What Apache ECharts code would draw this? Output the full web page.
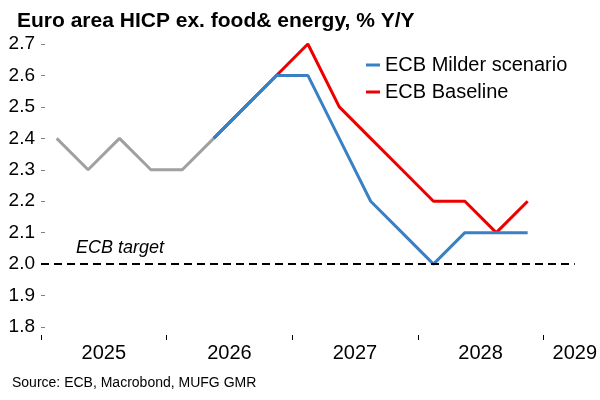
<!DOCTYPE html>
<html>
<head>
    <meta charset="UTF-8">
    <title>Euro area HICP ex. food & energy</title>
    <script src="https://cdn.jsdelivr.net/npm/echarts@6/dist/echarts.min.js"></script>
    <style>
        html, body { margin: 0; padding: 0; background: #fff; }
        #chart { width: 600px; height: 400px; }
    </style>
</head>
<body>
<div id="chart"></div>
<script>
    // quarterly points, 2025Q1 .. 2029Q1
    var quarters = ['2025Q1','2025Q2','2025Q3','2025Q4',
                    '2026Q1','2026Q2','2026Q3','2026Q4',
                    '2027Q1','2027Q2','2027Q3','2027Q4',
                    '2028Q1','2028Q2','2028Q3','2028Q4',
                    '2029Q1'];
    var actualData   = [2.4, 2.3, 2.4, 2.3, 2.3, 2.4];
    var baselineData = [null, null, null, null, null, 2.4, 2.5, 2.6, 2.7, 2.5, 2.4, 2.3, 2.2, 2.2, 2.1, 2.2];
    var milderData   = [null, null, null, null, null, 2.4, 2.5, 2.6, 2.6, 2.4, 2.2, 2.1, 2.0, 2.1, 2.1, 2.1];
    var years    = ['2025', '2026', '2027', '2028', '2029'];
    var ecbTarget = 2.0;

    var FONT = 'Liberation Sans, Arial, sans-serif';
    var nQ = quarters.length;

    // turn a list of values into [x, y] pairs, x = quarter centre
    function toPoints(list) {
        var out = [];
        list.forEach(function (v, i) {
            if (v !== null) out.push([i + 0.5, v]);
        });
        return out;
    }

    // year boundaries and the label spot for each year (middle, clipped to the axis end)
    var yearStarts = [], yearMids = [];
    years.forEach(function (y) {
        var start = quarters.indexOf(y + 'Q1');
        yearStarts.push(start);
        yearMids.push(Math.min(start + 2, nQ));
    });

    function yearOf(v) {
        var k = yearMids.indexOf(v);
        return k >= 0 ? years[k] : '';
    }

    var option = {
        animation: false,
        title: {
            text: 'Euro area HICP ex. food& energy, % Y/Y',
            left: 12,
            top: 6,
            textStyle: { fontFamily: FONT, fontSize: 21, fontWeight: 'bold', color: '#000' }
        },
        legend: {
            data: ['ECB Milder scenario', 'ECB Baseline'],
            orient: 'vertical',
            left: 361,
            top: 50,
            icon: 'rect',
            itemWidth: 14,
            itemHeight: 3,
            itemGap: 7,
            textStyle: { fontFamily: FONT, fontSize: 20, color: '#000' }
        },
        grid: { left: 41, right: 25, top: 44, bottom: 73 },
        xAxis: {
            type: 'value',
            min: 0,
            max: nQ,
            offset: 8,
            axisLine: { show: false },
            splitLine: { show: false },
            axisTick: {
                show: true,
                customValues: yearStarts,
                length: 5,
                lineStyle: { color: '#000', width: 1 }
            },
            axisLabel: {
                customValues: yearMids,
                formatter: yearOf,
                margin: 8,
                fontFamily: FONT,
                fontSize: 20,
                color: '#000'
            }
        },
        yAxis: {
            type: 'value',
            min: 1.8,
            max: 2.7,
            interval: 0.1,
            axisLine: { show: false },
            splitLine: { show: false },
            axisTick: {
                show: true,
                inside: true,
                length: 4,
                lineStyle: { color: '#808080' }
            },
            axisLabel: {
                margin: 6,
                fontFamily: FONT,
                fontSize: 19,
                color: '#000',
                formatter: function (v) { return v.toFixed(1); }
            }
        },
        graphic: [
            {
                type: 'text',
                left: 76,
                top: 239,
                style: { text: 'ECB target', fontFamily: FONT, fontSize: 18, fontStyle: 'italic', fill: '#000' }
            },
            {
                type: 'text',
                left: 12,
                top: 376,
                style: { text: 'Source: ECB, Macrobond, MUFG GMR', fontFamily: FONT, fontSize: 14, fill: '#000' }
            }
        ],
        series: [
            {
                name: 'Actual',
                type: 'line',
                data: toPoints(actualData),
                showSymbol: false,
                lineStyle: { color: '#a0a0a0', width: 3 },
                itemStyle: { color: '#a0a0a0' },
                markLine: {
                    silent: true,
                    symbol: 'none',
                    label: { show: false },
                    lineStyle: { color: '#000', type: [8, 5], width: 2 },
                    data: [{ yAxis: ecbTarget }]
                }
            },
            {
                name: 'ECB Baseline',
                type: 'line',
                data: toPoints(baselineData),
                showSymbol: false,
                lineStyle: { color: '#ee0000', width: 3 },
                itemStyle: { color: '#ee0000' }
            },
            {
                name: 'ECB Milder scenario',
                type: 'line',
                data: toPoints(milderData),
                showSymbol: false,
                lineStyle: { color: '#3a80c4', width: 3 },
                itemStyle: { color: '#3a80c4' }
            }
        ]
    };

    var myChart = echarts.init(document.getElementById('chart'));
    myChart.setOption(option);
</script>
</body>
</html>
